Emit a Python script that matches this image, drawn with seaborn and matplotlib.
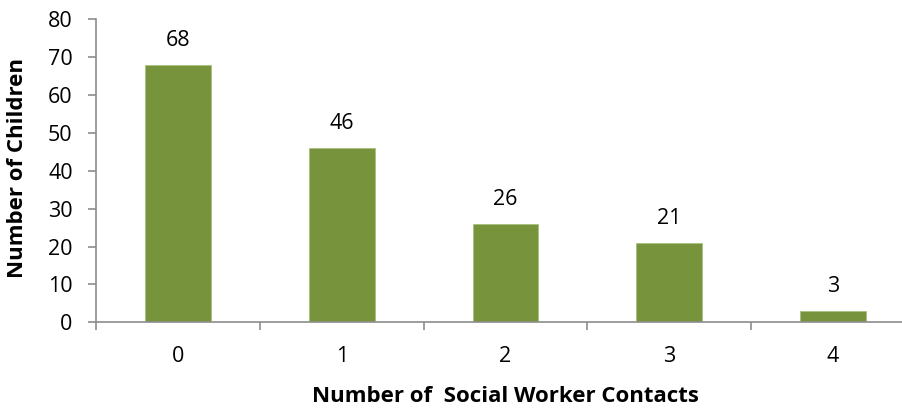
import matplotlib
matplotlib.use("Agg")
import matplotlib.pyplot as plt
import seaborn as sns
import pandas as pd

categories = ["0", "1", "2", "3", "4"]
values = [68, 46, 26, 21, 3]
yticks = [0, 10, 20, 30, 40, 50, 60, 70, 80]

sns.set_style("white")
plt.rcParams["font.family"] = ["Open Sans", "DejaVu Sans"]
plt.rcParams["text.color"] = "black"
plt.rcParams["xtick.color"] = "black"
plt.rcParams["ytick.color"] = "black"

df = pd.DataFrame({"contacts": categories, "children": values})

fig = plt.figure(figsize=(9.03, 4.09), dpi=100)
W, H = 903, 409
left, right = 96.3, 914.7
bottom, top = 409 - 322.3, 409 - 19.3
ax = fig.add_axes([left / W, bottom / H, (right - left) / W, (top - bottom) / H])

sns.barplot(data=df, x="contacts", y="children", color="#77933C", saturation=1,
            width=0.40, ax=ax, edgecolor="#A9C07A", linewidth=0.6)

ax.set_xlim(-0.5, 4.5)
ax.set_ylim(0, 80)
ax.set_yticks(yticks)
ax.set_yticklabels([str(t) for t in yticks], fontsize=15.5)

# x ticks at category boundaries, labels at centers
ax.set_xticks([i - 0.5 for i in range(len(categories) + 1)])
ax.set_xticklabels([""] * (len(categories) + 1))
ax.set_xticks(range(len(categories)), minor=True)
ax.set_xticklabels(categories, minor=True, fontsize=15.5)
ax.tick_params(axis="x", which="minor", bottom=True, length=0, pad=17, labelcolor="black")
ax.tick_params(axis="x", which="major", bottom=True, length=6, width=1.2,
               color="#8C8C8C", direction="out")
ax.tick_params(axis="y", left=True, length=6, width=1.2, color="#8C8C8C",
               direction="out", pad=11, labelcolor="black")

for s in ["top", "right"]:
    ax.spines[s].set_visible(False)
for s in ["left", "bottom"]:
    ax.spines[s].set_color("#8C8C8C")
    ax.spines[s].set_linewidth(1.2)

for i, v in enumerate(values):
    ax.annotate(str(v), (i, v), xytext=(0, 10), textcoords="offset points",
                ha="center", va="bottom", fontsize=15.5, color="black")

ax.set_xlabel("")
ax.set_ylabel("")
fig.text(505 / W, 1 - 396 / H, "Number of  Social Worker Contacts", fontsize=16,
         fontweight="bold", ha="center", va="center", color="black")
fig.text(18 / W, 1 - 168 / H, "Number of Children", fontsize=16,
         fontweight="bold", ha="center", va="center", rotation=90, color="black")

fig.savefig("out.png", dpi=100)
